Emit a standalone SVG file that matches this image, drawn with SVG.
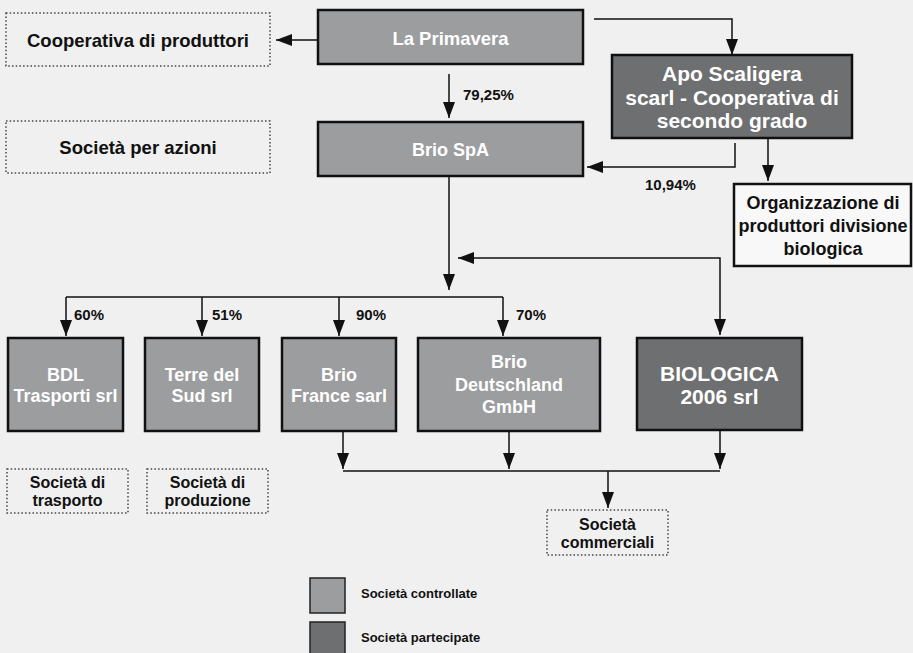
<svg xmlns="http://www.w3.org/2000/svg" width="913" height="653" viewBox="0 0 913 653">
<defs>
<marker id="ah" markerUnits="userSpaceOnUse" markerWidth="16" markerHeight="12" refX="16" refY="6" orient="auto-start-reverse">
<path d="M0,0 L16,6 L0,12 z" fill="#111"/>
</marker>
<style>
.lt{fill:#9c9d9f;stroke:#111;stroke-width:2.5}
.dk{fill:#6e6f71;stroke:#111;stroke-width:2.5}
.wh{fill:#f8f8f8;stroke:#111;stroke-width:2.5}
.dot{fill:none;stroke:#444;stroke-width:1.5;stroke-dasharray:1.5 2.2}
.lg{stroke:#222;stroke-width:1.5}
text{font-family:"Liberation Sans",Arial,sans-serif;font-weight:bold}
.w{fill:#fff;text-anchor:middle}
.b{fill:#111;text-anchor:middle}
.p{fill:#111;font-size:15px}
.c{fill:none;stroke:#111;stroke-width:1.5}
.a{marker-end:url(#ah)}
</style>
</defs>
<rect width="913" height="653" fill="#f0f0f0"/>

<g id="connectors">
<path class="c a" d="M318,40 H276"/>
<path class="c a" d="M594,19 H732 V55"/>
<path class="c a" d="M449,74 V118"/>
<path class="c a" d="M735,143 V167 H587"/>
<path class="c a" d="M768,139 V181"/>
<path class="c a" d="M449,177 V290"/>
<path class="c a" d="M720,335 V258 H458" style="marker-start:url(#ah)"/>
<path class="c" d="M66,297 H503"/>
<path class="c a" d="M66,297 V336"/>
<path class="c a" d="M202,297 V336"/>
<path class="c a" d="M339,297 V336"/>
<path class="c a" d="M503,297 V336"/>
<path class="c a" d="M343,431 V469"/>
<path class="c a" d="M509,431 V469"/>
<path class="c a" d="M720,431 V469"/>
<path class="c" d="M343,471 H720"/>
<path class="c a" d="M608,471 V508"/>
<text class="p" x="463" y="100">79,25%</text>
<text class="p" x="645" y="190">10,94%</text>
<text class="p" x="74" y="320">60%</text>
<text class="p" x="212" y="320">51%</text>
<text class="p" x="356" y="320">90%</text>
<text class="p" x="516" y="320">70%</text>
</g>

<g id="cooperativa-produttori">
<rect class="dot" x="6" y="13" width="264" height="53"/>
<text class="b" x="138" y="47" font-size="18.5">Cooperativa di produttori</text>
</g>
<g id="societa-azioni">
<rect class="dot" x="6" y="121" width="264" height="52"/>
<text class="b" x="138" y="154" font-size="18.5">Società per azioni</text>
</g>
<g id="la-primavera">
<rect class="lt" x="318" y="10" width="265" height="54"/>
<text class="w" x="450.5" y="45" font-size="18.5">La Primavera</text>
</g>
<g id="brio-spa">
<rect class="lt" x="318" y="122" width="265" height="54"/>
<text class="w" x="450.5" y="156" font-size="18">Brio SpA</text>
</g>
<g id="apo-scaligera">
<rect class="dk" x="612" y="55" width="240" height="83"/>
<text class="w" x="732" y="81" font-size="21">Apo Scaligera</text>
<text class="w" x="732" y="105" font-size="21">scarl - Cooperativa di</text>
<text class="w" x="732" y="128" font-size="21">secondo grado</text>
</g>
<g id="organizzazione">
<rect class="wh" x="734" y="184" width="177" height="82"/>
<text class="b" x="823" y="209" font-size="18">Organizzazione di</text>
<text class="b" x="823" y="232" font-size="18">produttori divisione</text>
<text class="b" x="823" y="255" font-size="18">biologica</text>
</g>
<g id="bdl">
<rect class="lt" x="8" y="338" width="115" height="93"/>
<text class="w" x="65.5" y="381" font-size="18">BDL</text>
<text class="w" x="65.5" y="402" font-size="18">Trasporti srl</text>
</g>
<g id="terre-del-sud">
<rect class="lt" x="145" y="338" width="114" height="93"/>
<text class="w" x="202" y="381" font-size="18">Terre del</text>
<text class="w" x="202" y="402" font-size="18">Sud srl</text>
</g>
<g id="brio-france">
<rect class="lt" x="282" y="338" width="114" height="93"/>
<text class="w" x="339" y="381" font-size="18">Brio</text>
<text class="w" x="339" y="402" font-size="18">France sarl</text>
</g>
<g id="brio-deutschland">
<rect class="lt" x="418" y="338" width="182" height="93"/>
<text class="w" x="509" y="368" font-size="18">Brio</text>
<text class="w" x="509" y="391" font-size="18">Deutschland</text>
<text class="w" x="509" y="413" font-size="18">GmbH</text>
</g>
<g id="biologica">
<rect class="dk" x="637" y="338" width="165" height="92"/>
<text class="w" x="719.5" y="381" font-size="21">BIOLOGICA</text>
<text class="w" x="719.5" y="404" font-size="21">2006 srl</text>
</g>
<g id="societa-trasporto">
<rect class="dot" x="7" y="469" width="121" height="44"/>
<text class="b" x="67.5" y="488" font-size="16">Società di</text>
<text class="b" x="67.5" y="506" font-size="16">trasporto</text>
</g>
<g id="societa-produzione">
<rect class="dot" x="147" y="469" width="121" height="44"/>
<text class="b" x="207.5" y="488" font-size="16">Società di</text>
<text class="b" x="207.5" y="506" font-size="16">produzione</text>
</g>
<g id="societa-commerciali">
<rect class="dot" x="547" y="510" width="121" height="45"/>
<text class="b" x="607.5" y="530" font-size="16">Società</text>
<text class="b" x="607.5" y="548" font-size="16">commerciali</text>
</g>
<g id="legend">
<rect class="lg" x="310" y="578" width="35" height="35" fill="#9c9d9f"/>
<text x="361" y="598" font-size="13" fill="#111">Società controllate</text>
<rect class="lg" x="310" y="622" width="35" height="35" fill="#6e6f71"/>
<text x="361" y="642" font-size="13" fill="#111">Società partecipate</text>
</g>
</svg>
